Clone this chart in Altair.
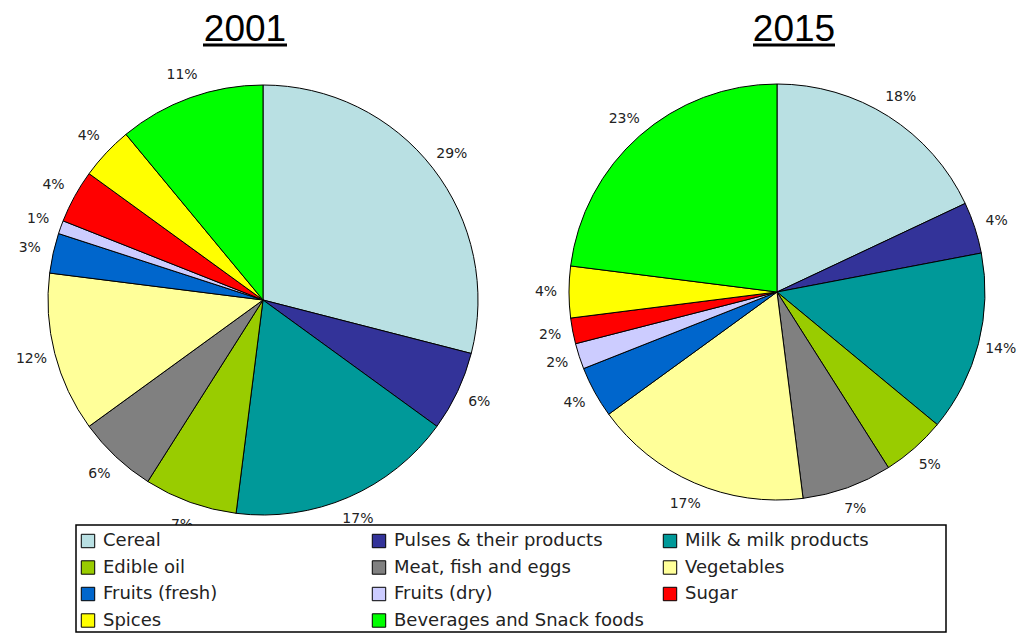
import altair as alt
import pandas as pd

categories = [
    "Cereal", "Pulses & their products", "Milk & milk products",
    "Edible oil", "Meat, fish and eggs", "Vegetables",
    "Fruits (fresh)", "Fruits (dry)", "Sugar",
    "Spices", "Beverages and Snack foods",
]
share_2001 = [29, 6, 17, 7, 6, 12, 3, 1, 4, 4, 11]
share_2015 = [18, 4, 14, 5, 7, 17, 4, 2, 2, 4, 23]
colors = ["#B9E0E3", "#333399", "#009999", "#99CC00", "#808080", "#FFFF99",
          "#0066CC", "#CCCCFF", "#FF0000", "#FFFF00", "#00FF00"]
years = ["2001", "2015"]

rows = []
for year, shares in zip(years, [share_2001, share_2015]):
    for i, (c, v) in enumerate(zip(categories, shares)):
        rows.append({"year": year, "category": c, "idx": i, "share": v, "label": f"{v}%"})
df = pd.DataFrame(rows)

color = alt.Color(
    "category:N",
    scale=alt.Scale(domain=categories, range=colors),
    legend=alt.Legend(
        title=None, orient="none", legendX=73, legendY=526, columns=3,
        direction="horizontal",
        symbolType="square", symbolSize=180, symbolStrokeColor="black",
        symbolStrokeWidth=1, labelFont="DejaVu Sans", labelFontSize=18,
        labelColor="#222", labelLimit=400, columnPadding=17, rowPadding=8.5,
        padding=6, gridAlign="all", labelOffset=6,
    ),
)


def pie(year, cx, cy, r, lr):
    base = alt.Chart(df).transform_filter(alt.datum.year == year).encode(
        theta=alt.Theta("share:Q", stack=True),
        order=alt.Order("idx:Q"),
        x=alt.value(cx), y=alt.value(cy),
    )
    arcs = base.mark_arc(outerRadius=r, stroke="black", strokeWidth=1).encode(color=color)
    labels = base.mark_text(radius=lr, font="DejaVu Sans", fontSize=14, color="#222").encode(
        text="label:N")
    return [arcs, labels]


def title(year, cx, x1, x2):
    t = alt.Chart(pd.DataFrame({"t": [year]})).mark_text(
        font="Liberation Sans", fontSize=37, baseline="alphabetic", color="black"
    ).encode(text="t:N", x=alt.value(cx), y=alt.value(41))
    u = alt.Chart(pd.DataFrame({"t": [year]})).mark_rule(color="black", strokeWidth=3).encode(
        x=alt.value(x1), x2=alt.value(x2), y=alt.value(45))
    return [t, u]


legend_box = alt.Chart(pd.DataFrame({"b": [0]})).mark_rect(
    fill="white", stroke="black", strokeWidth=1.5
).encode(x=alt.value(76), x2=alt.value(946), y=alt.value(525), y2=alt.value(632))

layers = (pie("2001", 263, 300, 215, 239) + pie("2015", 777, 292, 208, 231)
          + title("2001", 245, 203, 287) + title("2015", 794, 753, 835) + [legend_box])

chart = alt.layer(*layers).properties(
    width=1021, height=634, padding=0, autosize="none", background="white"
).configure_view(stroke=None)

chart.save("out.html", embed_options={"renderer": "svg", "actions": False})
